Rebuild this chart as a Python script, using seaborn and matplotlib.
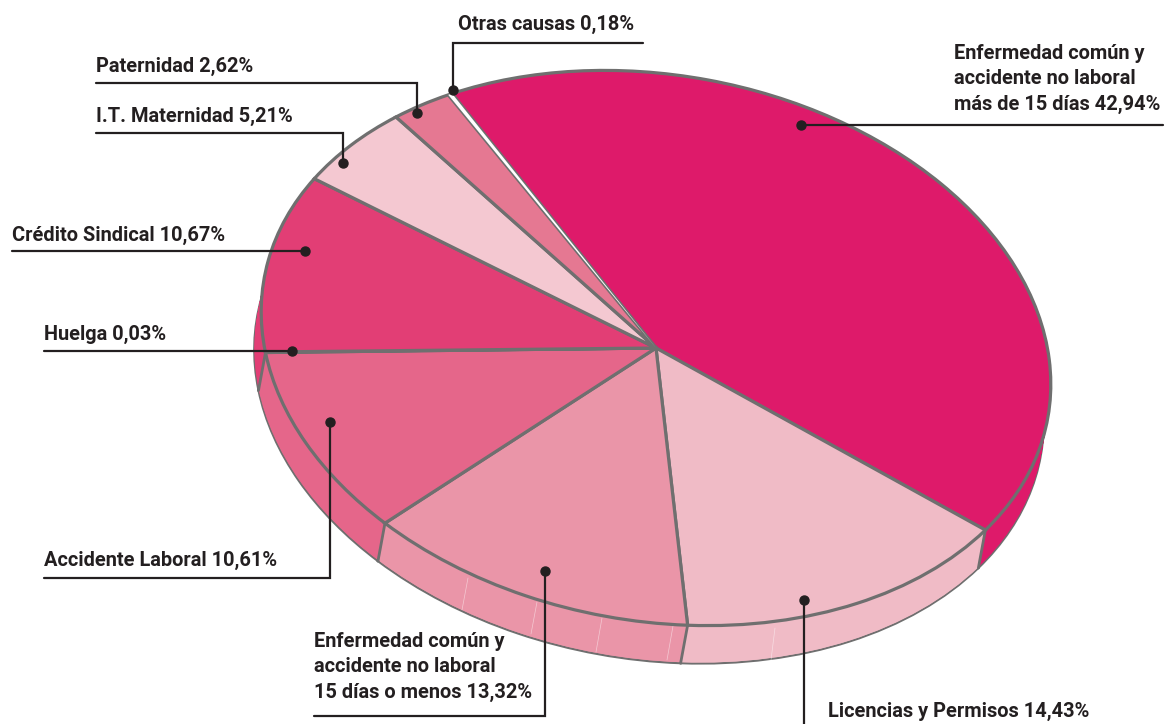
#!/usr/bin/env python
# Tilted "3D" pie of absence causes, labels with leader lines
import matplotlib
matplotlib.use("Agg")
import matplotlib.pyplot as plt
import numpy as np
from matplotlib.transforms import Affine2D
import seaborn as sns

# data, clockwise from the big slice
causes = ["Enfermedad común y\naccidente no laboral\nmás de 15 días", "Licencias y Permisos",
          "Enfermedad común y\naccidente no laboral\n15 días o menos", "Accidente Laboral",
          "Huelga", "Crédito Sindical", "I.T. Maternidad", "Paternidad", "Otras causas"]
shares = [42.94, 14.43, 13.32, 10.61, 0.03, 10.67, 5.21, 2.62, 0.18]
share_text = ["42,94%", "14,43%", "13,32%", "10,61%", "0,03%", "10,67%", "5,21%", "2,62%", "0,18%"]
slice_colors = ["#DE1A6A", "#F0BBC6", "#EA95A8", "#E5668A", "#E23E75", "#E23E75", "#F4C8D1", "#E57892", "#FFFFFF"]

sns.set_theme(style="white")
plt.rcParams["font.family"] = ["Roboto", "Liberation Sans", "DejaVu Sans"]

W, H = 1169, 724
fig = plt.figure(figsize=(W / 100, H / 100), dpi=100)
ax = fig.add_axes([0, 0, 1, 1])
palette = sns.color_palette(slice_colors)
GREY = "#6F6F6F"
INK = "#231F20"
WALL_DX, WALL_DY = -7, 38


def py(y):
    return H - y


def shape_at(dx, dy):
    return Affine2D().scale(398, 273).rotate_deg(-10).translate(656 + dx, py(348) - dy)


def draw_pie(dx, dy, edge, lw, z=2):
    wedges, _ = ax.pie(shares, colors=palette, startangle=128, counterclock=False,
                       wedgeprops=dict(edgecolor=edge, linewidth=lw))
    shape = shape_at(dx, dy)
    for w in wedges:
        w.set_transform(shape + ax.transData)
        w.set_clip_on(False)
        w.set_zorder(z)
    return wedges


# side wall: bottom outline, then the same pie stacked upwards
draw_pie(WALL_DX, WALL_DY, GREY, 1.5, z=1)
for k in range(WALL_DY - 1, 0, -1):
    draw_pie(WALL_DX * k / WALL_DY, k, "none", 0, z=2)

tops = draw_pie(0, 0, GREY, 2.3, z=4)

# seams on the wall follow the slice edges that face the viewer
for w in tops[:4]:
    a = np.deg2rad(min(w.theta1, w.theta2))
    (x0, y0) = shape_at(0, 0).transform((np.cos(a), np.sin(a)))
    ax.plot([x0, x0 + WALL_DX], [y0, y0 - WALL_DY], color=GREY, lw=2.0, zorder=3)

# faint white cracks seen on the wall in the original
for x0, y0, x1, y1 in [(468, 578, 462, 610), (537, 602, 531, 634), (602, 618, 596, 652), (673, 626, 667, 660), (775, 628, 771, 660)]:
    ax.plot([x0, x1], [py(y0), py(y1)], color="white", lw=0.5, alpha=0.5, zorder=3)

# the tiny slice stays white, on top of its neighbours' edges
tops[-1].set_edgecolor("none")
tops[-1].set_linewidth(0)
tops[-1].set_zorder(5)

ax.set_aspect("auto")
ax.set_xlim(0, W)
ax.set_ylim(0, H)
ax.axis("off")

# label block centres
label_pos = [(954, 79), (828, 711), (314, 667), (44, 560), (44, 334), (12, 235), (96, 116), (96, 66), (458, 24)]
# leader: corner points ending at the dot
leaders = [[(1163, 125), (801, 125)],
           [(804, 724), (804, 600)],
           [(314, 716), (545, 716), (545, 571)],
           [(44, 578), (330, 578), (330, 422)],
           [(44, 351), (292, 351)],
           [(12, 251), (305, 251)],
           [(96, 133), (343, 133), (343, 163)],
           [(96, 83), (417, 83), (417, 113)],
           [(643, 43), (453, 43), (453, 90)]]

for cause, pct, (x, y), pts in zip(causes, share_text, label_pos, leaders):
    ax.text(x, py(y), cause + " " + pct, ha="left", va="center", fontsize=14.4, fontweight="bold",
            color=INK, linespacing=1.4, zorder=6)
    xs = [p[0] for p in pts]
    ys = [py(p[1]) for p in pts]
    ax.plot(xs, ys, color=INK, lw=1.6, zorder=6, solid_joinstyle="miter", clip_on=False)
    ax.plot(xs[-1], ys[-1], "o", color=INK, ms=6.5, zorder=7)

plt.savefig("out.png", dpi=100)
plt.close()
